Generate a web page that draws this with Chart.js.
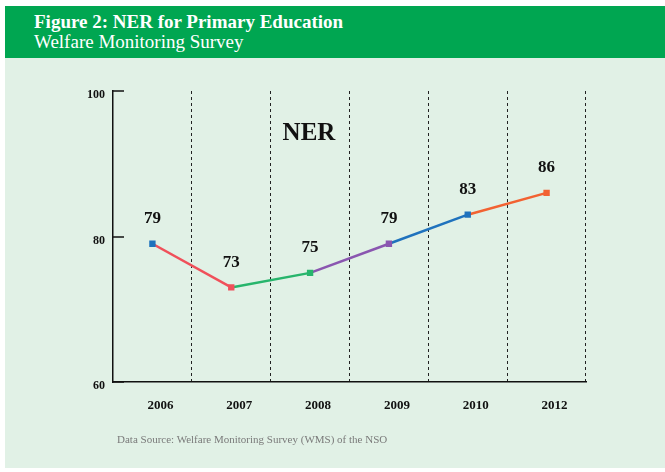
<!DOCTYPE html>
<html>
<head>
<meta charset="utf-8">
<script src="https://cdn.jsdelivr.net/npm/chart.js@4"></script>
<style>
  html, body { margin: 0; padding: 0; background: #ffffff; }
  body { width: 665px; height: 472px; position: relative; overflow: hidden; font-family: "Liberation Serif", "DejaVu Serif", serif; }
  #header { position: absolute; left: 5px; top: 6px; width: 660px; height: 52px; background: #00a651; color: #ffffff; }
  #header div { position: absolute; left: 29px; font-size: 19px; line-height: 19px; white-space: nowrap; }
  #header .t1 { top: 6px; font-weight: bold; }
  #header .t2 { top: 26px; }
  #panel { position: absolute; left: 5px; top: 58px; width: 660px; height: 410px; background: #e1f1e6; }
  #source { position: absolute; left: 117px; top: 434px; font-size: 11px; line-height: 11px; color: #7a7a7a; white-space: nowrap; }
  #wrap { position: absolute; left: 0; top: 0; width: 665px; height: 472px; }
</style>
</head>
<body>
<div id="header"><div class="t1">Figure 2: NER for Primary Education</div><div class="t2">Welfare Monitoring Survey</div></div>
<div id="panel"></div>
<div id="wrap"><canvas id="c" width="665" height="472"></canvas></div>
<div id="source">Data Source: Welfare Monitoring Survey (WMS) of the NSO</div>
<script>
const years = ["2006", "2007", "2008", "2009", "2010", "2012"];
const nerValues = [79, 73, 75, 79, 83, 86];
const yTicks = [60, 80, 100];
const pointColors = ["#1f72bd", "#f0505a", "#27b56c", "#8a56b0", "#1f72bd", "#f26232"];
const segmentColors = ["#f0505a", "#27b56c", "#8a56b0", "#1f72bd", "#f26232"];

const SERIF = '"Liberation Serif", "DejaVu Serif", serif';

// Value labels, the "NER" caption and the inward tick marks on the value axis
const decorations = {
  id: 'decorations',
  afterDatasetsDraw(chart) {
    const ctx = chart.ctx;
    const meta = chart.getDatasetMeta(0);
    const area = chart.chartArea;
    const y = chart.scales.y;
    ctx.save();
    ctx.fillStyle = '#111111';
    ctx.textAlign = 'center';
    ctx.textBaseline = 'middle';
    ctx.font = 'bold 17px ' + SERIF;
    meta.data.forEach((pt, i) => {
      ctx.fillText(String(nerValues[i]), pt.x, pt.y - 25);
    });
    ctx.font = 'bold 25px ' + SERIF;
    ctx.fillText('NER', area.left + 196, area.top + 43);
    ctx.strokeStyle = '#111111';
    ctx.lineWidth = 1.5;
    yTicks.forEach(v => {
      const py = Math.round(y.getPixelForValue(v));
      ctx.beginPath();
      ctx.moveTo(area.left, py);
      ctx.lineTo(area.left + 11, py);
      ctx.stroke();
    });
    ctx.restore();
  }
};

new Chart(document.getElementById('c'), {
  type: 'line',
  data: {
    labels: years,
    datasets: [{
      data: nerValues,
      borderWidth: 2.5,
      pointStyle: 'rect',
      pointRadius: 4.5,
      pointHoverRadius: 4.5,
      pointBackgroundColor: pointColors,
      pointBorderColor: pointColors,
      pointBorderWidth: 0,
      borderColor: '#f0505a',
      segment: { borderColor: c => segmentColors[c.p0DataIndex] },
      tension: 0
    }]
  },
  options: {
    responsive: false,
    animation: false,
    events: [],
    layout: { padding: { left: 0, right: 79, top: 91, bottom: 0 } },
    plugins: { legend: { display: false }, tooltip: { enabled: false }, title: { display: false } },
    scales: {
      x: {
        type: 'category',
        offset: true,
        grid: {
          offset: true,
          drawOnChartArea: true,
          drawTicks: false,
          color: '#222222',
          lineWidth: 1
        },
        border: { display: true, color: '#111111', width: 1.5, dash: [3, 3] },
        ticks: {
          color: '#111111',
          font: { family: SERIF, size: 13, weight: 'bold' },
          padding: 16,
          labelOffset: 8
        },
        afterFit(scale) { scale.height = 90; }
      },
      y: {
        min: 60,
        max: 100,
        afterBuildTicks(scale) { scale.ticks = yTicks.map(v => ({ value: v })); },
        grid: { display: false, drawTicks: false },
        border: { display: true, color: '#111111', width: 1.5 },
        ticks: {
          color: '#111111',
          font: { family: SERIF, size: 12, weight: 'bold' },
          padding: 8,
          labelOffset: 4
        },
        afterFit(scale) { scale.width = 113; }
      }
    }
  },
  plugins: [decorations]
});
</script>
</body>
</html>
